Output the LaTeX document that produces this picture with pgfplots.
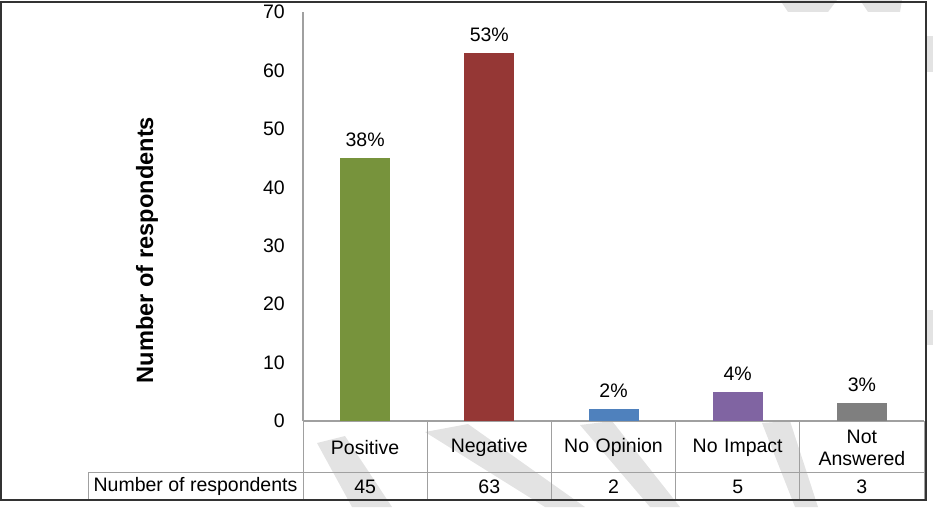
\documentclass[border=0pt]{standalone}
\usepackage{pgfplots}
\pgfplotsset{compat=1.18}
\usepackage{fontspec}
\setmainfont{Liberation Sans}
\definecolor{cPos}{HTML}{77933C}
\definecolor{cNeg}{HTML}{953735}
\definecolor{cNoOp}{HTML}{4F81BD}
\definecolor{cNoIm}{HTML}{8064A2}
\definecolor{cNA}{HTML}{7F7F7F}
\definecolor{wm}{HTML}{E3E3E3}
\definecolor{grid}{HTML}{A0A0A0}
\begin{document}
\begin{tikzpicture}[x=1pt,y=1pt]
\useasboundingbox (0,0) rectangle (933,507);
% watermark bands (image y flipped: y = 507 - y_img)
\fill[wm] (317,64) -- (345,71) -- (392,0) -- (352,0) -- cycle;
\fill[wm] (425,75) -- (468,83) -- (585,0) -- (545,0) -- cycle;
\fill[wm] (580,82) -- (612,86) -- (680,0) -- (650,0) -- cycle;
\fill[wm] (762,84) -- (790,86) -- (818,0) -- (795,0) -- cycle;
\fill[wm] (780,507) -- (837,507) -- (828,495) -- (788,495) -- cycle;
\fill[wm] (860,507) -- (902,507) -- (900,495) -- (868,495) -- cycle;
\fill[wm] (927,471) rectangle (933,435);
\fill[wm] (927,197) rectangle (933,162);

\begin{axis}[
  at={(303pt,86pt)}, anchor=south west,
  scale only axis, width=621pt, height=409pt,
  xmin=-0.5, xmax=4.5, ymin=0, ymax=70,
  ytick={0,10,...,70},
  xtick={0,1,2,3,4},
  xticklabels={Positive,Negative,No Opinion,No Impact,{Not\\Answered}},
  extra x ticks={0,1,2,3,4},
  extra x tick labels={45,63,2,5,3},
  extra x tick style={tick label style={yshift=-39.5pt}},
  axis x line*=bottom, axis y line*=left,
  axis line style={draw=grid, line width=1.2pt},
  x axis line style={line width=2pt},
  major tick length=0pt,
  /pgf/number format/assume math mode=true,
  font=\fontsize{19.5}{22}\selectfont,
  xticklabel style={anchor=center, yshift=-26.5pt, text width=118pt, align=center, inner sep=0pt},
  yticklabel style={anchor=east, inner sep=0pt, xshift=-18pt},
  ylabel={Number of respondents},
  ylabel style={at={(axis description cs:-0.2512,0.418)}, anchor=center, font=\bfseries\fontsize{23.6}{26}\selectfont},
  nodes near coords,
  point meta=explicit symbolic,
  every node near coord/.append style={font=\fontsize{19.5}{22}\selectfont, yshift=8pt},
]
\addplot[ybar, bar width=50pt, fill=cPos, draw=none] coordinates {(0,45) [38\%]};
\addplot[ybar, bar width=50pt, fill=cNeg, draw=none] coordinates {(1,63) [53\%]};
\addplot[ybar, bar width=50pt, fill=cNoOp, draw=none] coordinates {(2,2) [2\%]};
\addplot[ybar, bar width=50pt, fill=cNoIm, draw=none] coordinates {(3,5) [4\%]};
\addplot[ybar, bar width=50pt, fill=cNA, draw=none] coordinates {(4,3) [3\%]};
\end{axis}

% data table grid
\draw[grid, line width=1pt] (88,35) -- (924,35);
\draw[grid, line width=1pt] (88,35) -- (88,7);
\foreach \xx in {303,427.2,551.4,675.6,799.8,924}
  \draw[grid, line width=1pt] (\xx,86) -- (\xx,7);
\node[font=\fontsize{19.5}{22}\selectfont] at (195.5,21) {Number of respondents};
% outer frame
\draw[black!80, line width=1.3pt] (1,7) rectangle (926,505);
\end{tikzpicture}
\end{document}
